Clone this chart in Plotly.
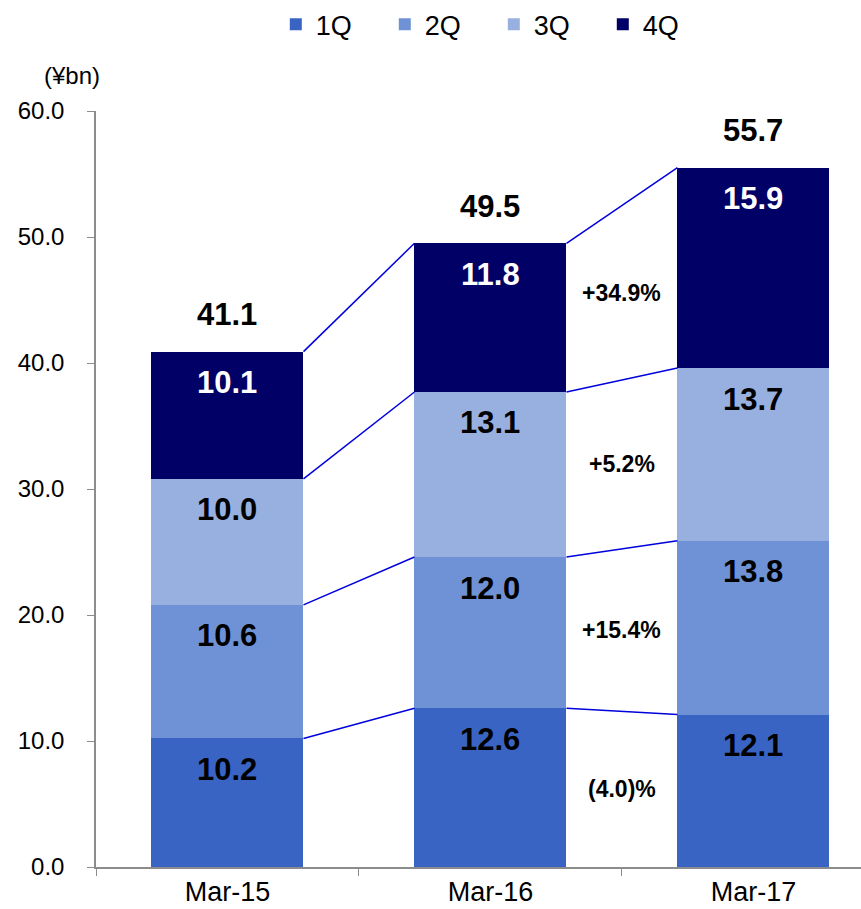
import plotly.graph_objects as go

categories = ["Mar-15", "Mar-16", "Mar-17"]
series_names = ["1Q", "2Q", "3Q", "4Q"]
q1 = [10.2, 12.6, 12.1]
q2 = [10.6, 12.0, 13.8]
q3 = [10.0, 13.1, 13.7]
q4 = [10.1, 11.8, 15.9]
totals = [41.1, 49.5, 55.7]
growth_labels = ["(4.0)%", "+15.4%", "+5.2%", "+34.9%"]
y_ticks = [0, 10, 20, 30, 40, 50, 60]

colors = ["#3A64C4", "#6F92D6", "#98B0E0", "#000066"]
label_colors = ["black", "black", "black", "white"]
bar_w = 0.578
xs = list(range(len(categories)))

series = [q1, q2, q3, q4]
cum = []
run = [0.0] * len(categories)
for s in series:
    run = [r + v for r, v in zip(run, s)]
    cum.append(run[:])

fig = go.Figure()
for name, vals, col in zip(series_names, series, colors):
    fig.add_trace(go.Bar(x=xs, y=vals, name=name, marker=dict(color=col, line=dict(width=0)),
                         width=bar_w))

for k in range(len(series)):
    for i in range(len(categories) - 1):
        fig.add_trace(go.Scatter(
            x=[xs[i] + bar_w / 2, xs[i + 1] - bar_w / 2],
            y=[cum[k][i], cum[k][i + 1]],
            mode="lines", line=dict(color="#0000DD", width=1.5),
            showlegend=False, hoverinfo="skip"))

FONT = "Liberation Sans, Arial"
annotations = []
for k, vals in enumerate(series):
    for i, v in enumerate(vals):
        annotations.append(dict(x=xs[i], y=cum[k][i], yshift=-31, text=f"<b>{v:.1f}</b>",
                                showarrow=False, font=dict(size=31, color=label_colors[k], family=FONT)))
for i, t in enumerate(totals):
    annotations.append(dict(x=xs[i], y=cum[-1][i], yshift=37, text=f"<b>{t:.1f}</b>",
                            showarrow=False, font=dict(size=31, color="black", family=FONT)))
for k, g in enumerate(growth_labels):
    lo1 = cum[k - 1][1] if k > 0 else 0
    lo2 = cum[k - 1][2] if k > 0 else 0
    mid = (lo1 + cum[k][1] + lo2 + cum[k][2]) / 4
    annotations.append(dict(x=1.5, y=mid, text=f"<b>{g}</b>", showarrow=False,
                            font=dict(size=23, color="black", family=FONT)))
annotations.append(dict(xref="paper", yref="paper", x=-0.031, y=1.047, xanchor="center",
                        yanchor="middle", text="(¥bn)", showarrow=False,
                        font=dict(size=24, color="black", family=FONT)))

fig.update_layout(
    width=861, height=909,
    margin=dict(l=96, r=0, t=111, b=42),
    barmode="stack",
    plot_bgcolor="white", paper_bgcolor="white",
    font=dict(family=FONT, color="black"),
    showlegend=True,
    legend=dict(orientation="h", x=0.52, xanchor="center", y=1.114, yanchor="middle",
                font=dict(size=27), entrywidth=64, entrywidthmode="pixels",
                itemwidth=30, traceorder="normal"),
    annotations=annotations,
    xaxis=dict(range=[-0.5, 2.409], tickvals=xs, ticktext=categories, ticks="",
               showline=True, linecolor="#8C8C8C", linewidth=1.5,
               tickfont=dict(size=27), showgrid=False, zeroline=False,
               minor=dict(tickvals=[-0.5, 0.5, 1.5], ticks="outside", ticklen=7,
                          tickcolor="#8C8C8C", showgrid=False)),
    yaxis=dict(range=[0, 60], tickvals=y_ticks, tickformat=".1f", ticks="outside",
               ticklen=7, tickcolor="#8C8C8C", showline=True, linecolor="#8C8C8C",
               linewidth=1.5, tickfont=dict(size=24), ticklabelstandoff=18,
               showgrid=False, zeroline=False),
)

fig.write_html("out.html")
